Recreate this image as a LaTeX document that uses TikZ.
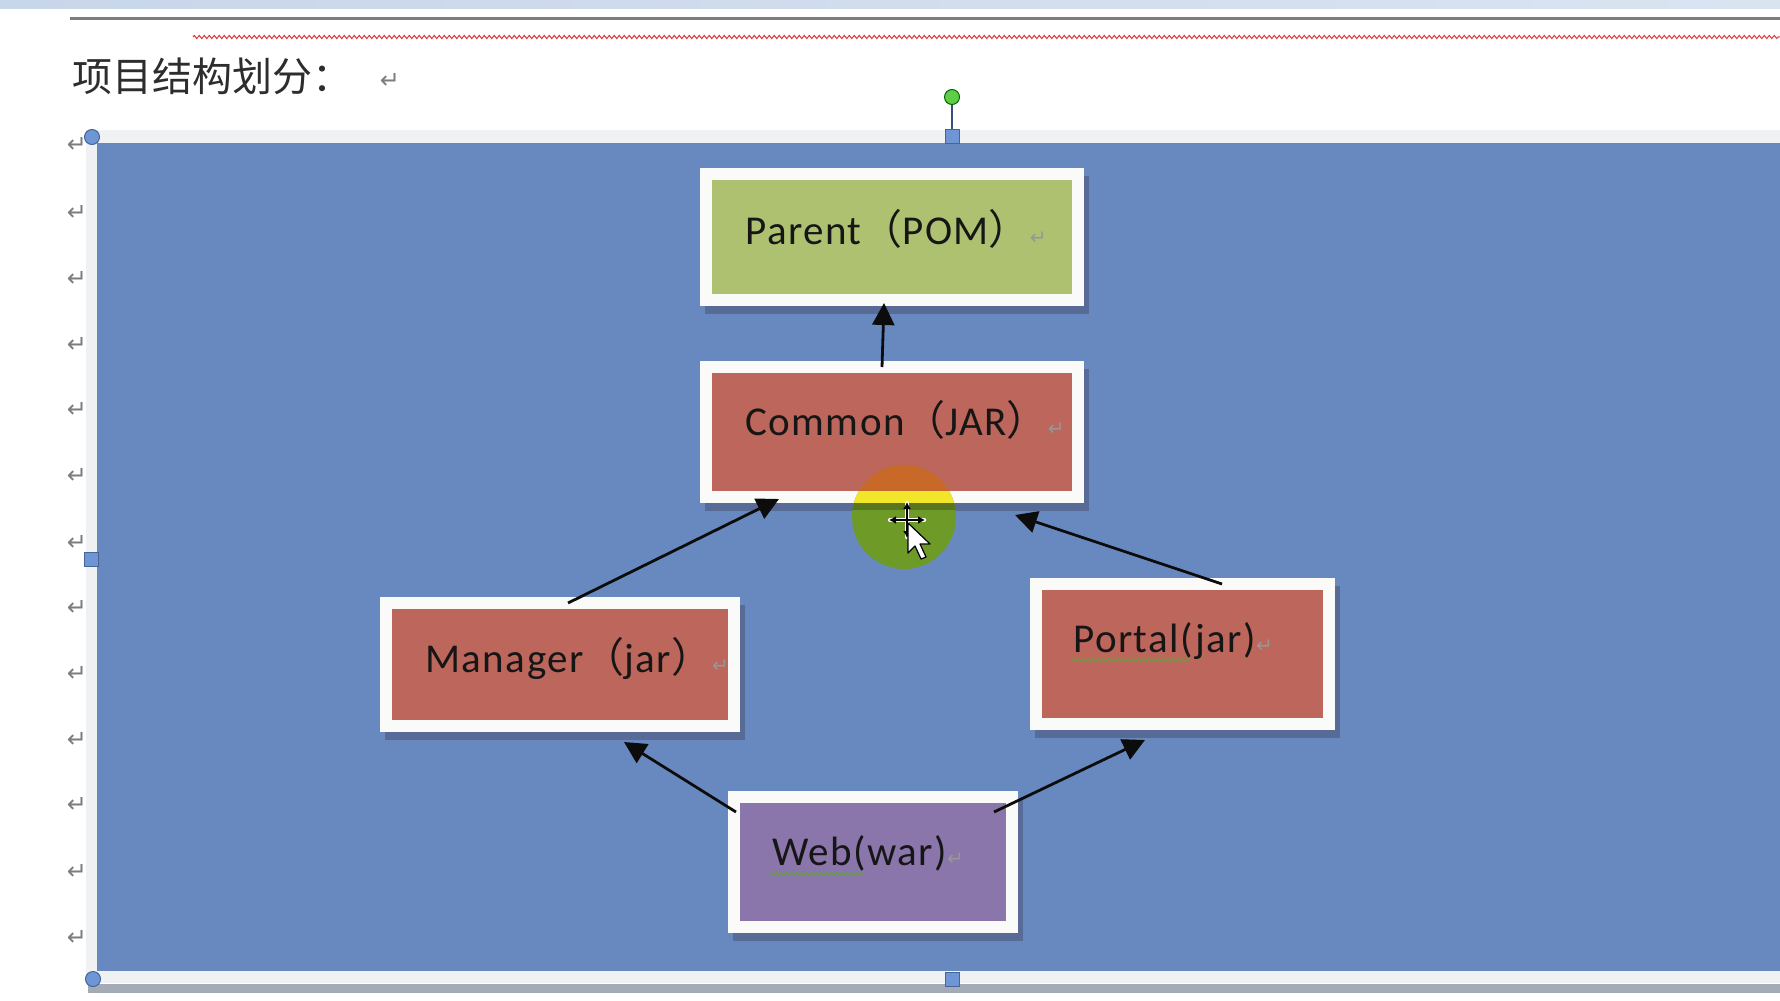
\documentclass[tikz,border=0pt]{standalone}
\usepackage{fontspec}
\setmainfont{Carlito}[LetterSpace=3.5]
\newfontfamily\cjkfont{Noto Sans CJK SC}
\newfontfamily\djv{DejaVu Sans}
\usetikzlibrary{arrows.meta,calc,decorations.pathmorphing}
\definecolor{canvasblue}{RGB}{104,137,191}
\definecolor{framegray}{RGB}{239,241,242}
\definecolor{bottomgray}{RGB}{163,171,182}
\definecolor{boxwhite}{RGB}{250,250,248}
\definecolor{parentgreen}{RGB}{173,193,112}
\definecolor{jarred}{RGB}{189,102,91}
\definecolor{warpurple}{RGB}{138,118,170}
\definecolor{shadowc}{RGB}{88,106,150}
\definecolor{textblack}{RGB}{22,22,22}
\definecolor{retgray}{RGB}{125,125,125}
\definecolor{arrowblack}{RGB}{12,12,12}
\definecolor{topband}{RGB}{200,214,233}
\definecolor{topband2}{RGB}{218,228,241}
\definecolor{ruleg}{RGB}{125,125,125}
\definecolor{spellred}{RGB}{224,60,60}
\definecolor{spellgreen}{RGB}{100,160,60}
\definecolor{handleblue}{RGB}{110,150,215}
\definecolor{handleedge}{RGB}{70,100,150}
\definecolor{rotgreen}{RGB}{95,205,70}
\definecolor{hlgreen}{RGB}{110,154,40}
\definecolor{hlorange}{RGB}{200,105,42}
\definecolor{hlyellow}{RGB}{242,230,42}
\definecolor{hlolive}{RGB}{88,118,32}
\newcommand\boxret{{\djv\fontsize{10}{10}\selectfont\textcolor{retgray!80}{↵}}}
\begin{document}
\begin{tikzpicture}[x=0.5pt,y=-0.5pt,
  boxst/.style={draw=boxwhite, line width=6pt, inner sep=0pt, outer sep=0pt},
  boxtext/.style={font=\fontsize{20.5}{24}\selectfont, text=textblack, inner sep=0pt, anchor=base west},
  retmark/.style={font=\djv\fontsize{12}{12}\selectfont, text=retgray, inner sep=0pt},
  dep/.style={draw=arrowblack, line width=1.4pt, -{Triangle[length=11pt,width=11pt]}},
  squig/.style={draw=#1, line width=0.5pt, decorate, decoration={zigzag, segment length=2.5pt, amplitude=0.8pt}},
  sqhandle/.style={rectangle, draw=handleedge, fill=handleblue, line width=0.5pt, minimum size=7pt, inner sep=0pt},
  circhandle/.style={circle, draw=handleedge, fill=handleblue, line width=0.5pt, minimum size=7.5pt, inner sep=0pt},
  rothandle/.style={circle, draw=green!40!black, fill=rotgreen, line width=0.5pt, minimum size=7.5pt, inner sep=0pt}
]
\useasboundingbox (0,0) rectangle (1780,1000);
\fill[white] (0,0) rectangle (1780,1000);
% top of the page
\shade[left color=topband, right color=topband2] (0,0) rectangle (1780,9);
\fill[ruleg] (70,17) rectangle (1780,20.5);
\draw[squig=spellred] (193,37) -- (1780,37);
% title
\node[font=\cjkfont\fontsize{20}{24}\selectfont, text=textblack!90, inner sep=0pt, anchor=base west] (title) at (72,92) {项目结构划分：};
\node[retmark] (titleret) at (390,81) {↵};
% canvas
\fill[framegray] (86,130) rectangle (1780,983);
\fill[bottomgray] (88,984) rectangle (1780,993);
\fill[canvasblue] (97,143) rectangle (1780,971);
% left return marks
\foreach \yy [count=\i] in {145,213,279,345,410,476,543,608,674,740,805,872,938}
  \node[retmark] (lret\i) at (77,\yy) {↵};
% shadows
\fill[shadowc] (705,176) rectangle (1089,314);
\fill[shadowc] (705,369) rectangle (1089,511);
\fill[shadowc] (385,605) rectangle (745,740);
\fill[shadowc] (1035,586) rectangle (1340,738);
\fill[shadowc] (733,799) rectangle (1023,941);
% boxes
\node[boxst, fill=parentgreen, minimum width=186pt, minimum height=63pt] (parent) at (892,237) {};
\node[boxst, fill=jarred, minimum width=186pt, minimum height=65pt] (common) at (892,432) {};
\node[boxst, fill=jarred, minimum width=174pt, minimum height=61.5pt] (manager) at (560,664.5) {};
\node[boxst, fill=jarred, minimum width=146.5pt, minimum height=70pt] (portal) at (1182.5,654) {};
\node[boxst, fill=warpurple, minimum width=139pt, minimum height=65pt] (web) at (873,862) {};
% texts
\node[boxtext] (parentT) at (745,244) {Parent{\cjkfont （}POM{\cjkfont ）}\boxret};
\node[boxtext] (commonT) at (745,435) {Common{\cjkfont （}JAR{\cjkfont ）}\boxret};
\node[boxtext] (managerT) at (425,672) {Manager{\cjkfont （}jar{\cjkfont ）}\boxret};
\node[boxtext] (portalT) at (1073,652) {Portal(jar)\boxret};
\node[boxtext] (webT) at (772,865) {Web(war)\boxret};
\draw[squig=spellgreen] (1072,660) -- (1190,660);
\draw[squig=spellgreen] (770,874) -- (864,874);
% connectors
\draw[dep] ($(common.north)+(-10,0)$) -- ($(parent.south)+(-8,3)$);
\draw[dep] ($(manager.north)+(8,0)$) -- ($(common.south)+(-113,2)$);
\draw[dep] ($(portal.north)+(39.5,0)$) -- ($(common.south)+(123,18)$);
\draw[dep] ($(web.north)+(-137,15)$) -- ($(manager.south)+(64,16)$);
\draw[dep] ($(web.north)+(121,15)$) -- ($(portal.south)+(-37.5,16)$);
% selection handles
\draw[handleedge!80!black, line width=0.6pt] (952,104) -- (952,131);
\node[rothandle] (hRot) at (952,97) {};
\node[sqhandle] (hTop) at (952,137) {};
\node[circhandle] (hTL) at (92,137) {};
\node[sqhandle] (hL) at (91,559) {};
\node[circhandle] (hBL) at (93,979) {};
\node[sqhandle] (hB) at (952,979) {};
% cursor highlight
\begin{scope}
  \clip (904,517) circle[radius=52];
  \fill[hlgreen] (840,460) rectangle (970,580);
  \fill[hlorange] (840,460) rectangle (970,491);
  \fill[hlyellow] (840,491) rectangle (970,503);
  \fill[hlolive] (840,503) rectangle (970,510);
\end{scope}
% cursor
\draw[white, line width=2.2pt, line cap=round] (890,520) -- (924,520) (907,503) -- (907,537);
\draw[black, line width=0.7pt, {Latex[length=3.5pt,width=4pt]}-{Latex[length=3.5pt,width=4pt]}] (889,520) -- (925,520);
\draw[black, line width=0.7pt, {Latex[length=3.5pt,width=4pt]}-{Latex[length=3.5pt,width=4pt]}] (907,502) -- (907,538);
\filldraw[fill=white, draw=black, line width=0.6pt, line join=round]
  (908,523) -- (908,553) -- (915,546) -- (921,559) -- (926,557) -- (920,544) -- (930,544) -- cycle;
\end{tikzpicture}
\end{document}
